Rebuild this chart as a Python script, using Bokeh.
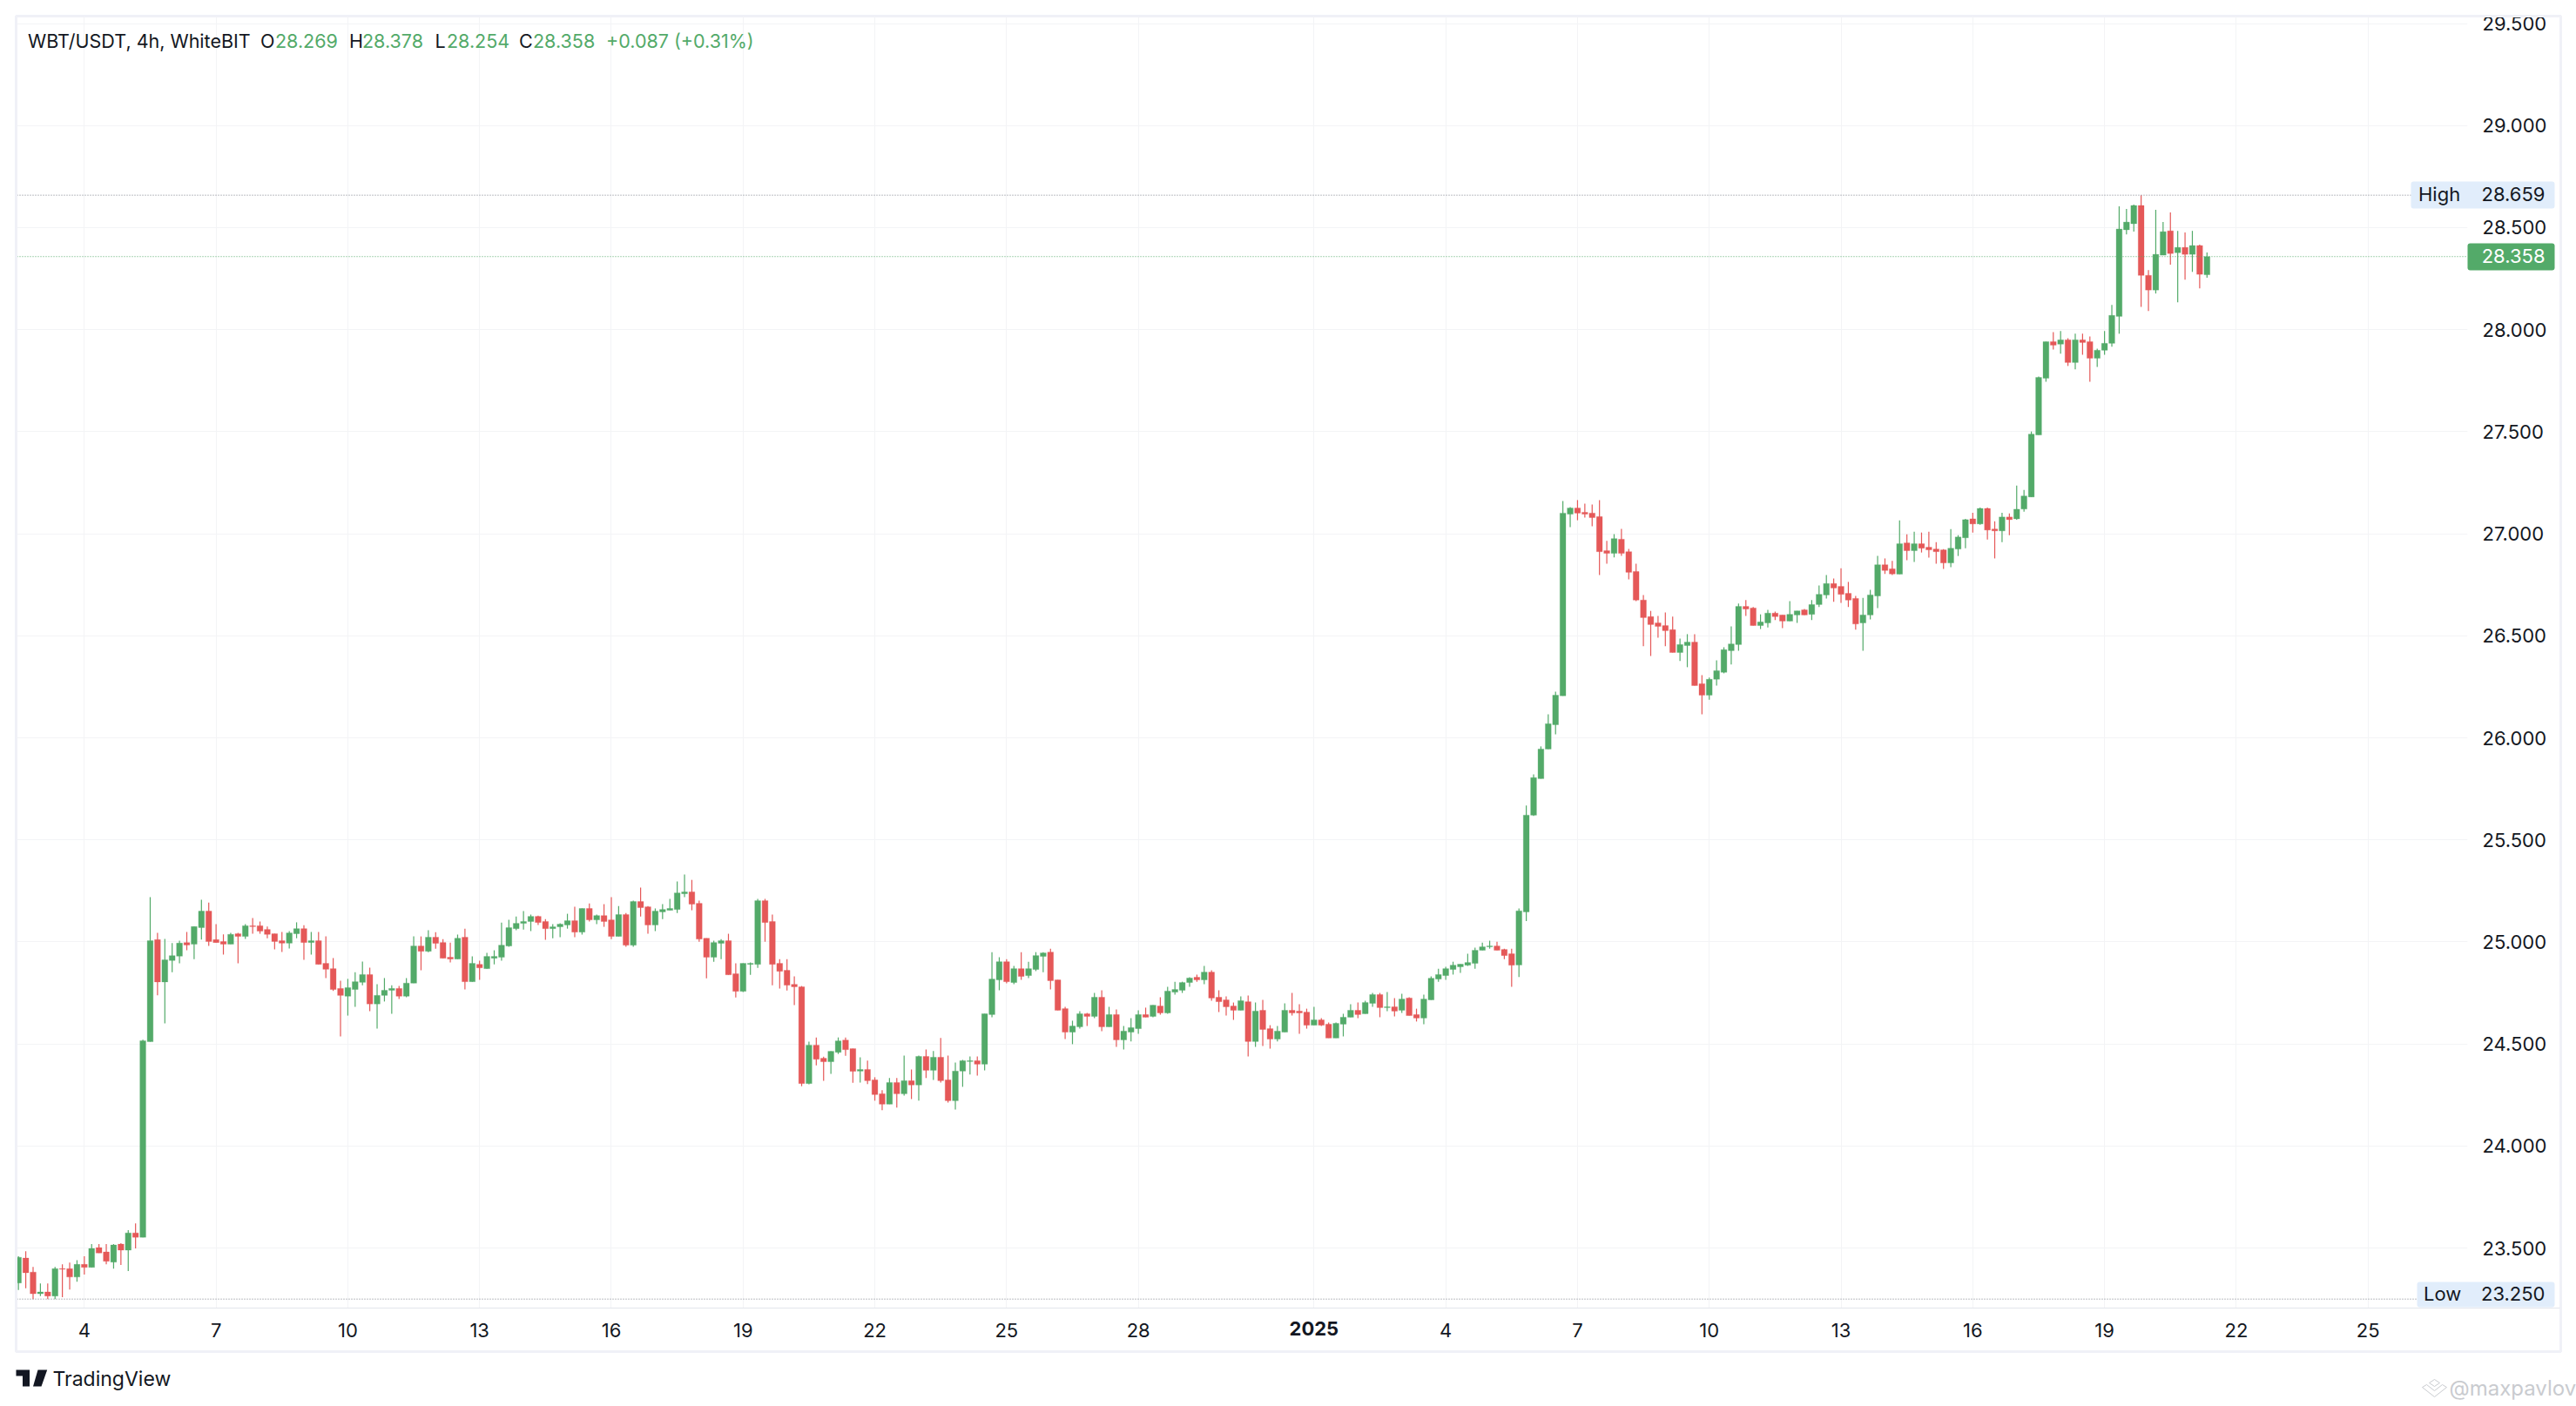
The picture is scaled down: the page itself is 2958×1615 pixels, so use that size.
from bokeh.core.properties import value
from bokeh.embed import file_html
from bokeh.resources import INLINE
from bokeh.plotting import figure
from bokeh.models import ColumnDataSource, FixedTicker, NumeralTickFormatter, Span

opens = [
23.329,23.451,23.382,23.276,23.285,23.265,23.399,23.399,23.358,23.420,
23.405,23.502,23.481,23.431,23.519,23.490,23.574,23.553,24.511,25.011,
24.804,24.909,24.930,24.997,24.989,25.070,25.151,25.011,25.002,24.989,
25.040,25.027,25.079,25.079,25.061,25.040,25.006,24.994,25.040,25.065,
24.997,25.006,24.895,24.869,24.772,24.734,24.767,24.802,24.840,24.696,
24.738,24.763,24.772,24.734,24.798,24.980,24.954,25.023,24.997,24.925,
24.916,25.023,24.805,24.890,24.869,24.920,24.925,24.980,25.065,25.091,
25.100,25.125,25.100,25.065,25.074,25.083,25.104,25.048,25.164,25.108,
25.129,25.108,25.027,25.134,24.984,25.198,25.172,25.083,25.147,25.155,
25.159,25.236,25.245,25.189,25.018,24.925,24.993,25.006,24.844,24.758,
24.890,24.890,25.202,25.100,24.895,24.861,24.792,24.780,24.306,24.494,
24.430,24.413,24.459,24.519,24.477,24.367,24.375,24.324,24.256,24.205,
24.311,24.256,24.320,24.299,24.439,24.371,24.435,24.324,24.222,24.367,
24.414,24.418,24.401,24.644,24.814,24.903,24.801,24.869,24.835,24.865,
24.929,24.950,24.814,24.673,24.558,24.584,24.648,24.635,24.729,24.584,
24.644,24.520,24.558,24.575,24.644,24.635,24.686,24.652,24.754,24.763,
24.801,24.827,24.814,24.852,24.729,24.716,24.686,24.665,24.707,24.512,
24.665,24.575,24.524,24.558,24.665,24.661,24.656,24.592,24.618,24.597,
24.529,24.597,24.631,24.665,24.648,24.699,24.742,24.678,24.682,24.665,
24.725,24.644,24.627,24.716,24.818,24.835,24.865,24.878,24.886,24.895,
24.959,24.976,24.980,24.963,24.942,24.887,25.147,25.621,25.800,25.945,
26.064,26.206,27.096,27.126,27.105,27.101,27.084,26.917,26.904,26.973,
26.912,26.815,26.675,26.594,26.563,26.550,26.530,26.418,26.452,26.469,
26.265,26.209,26.287,26.321,26.427,26.457,26.644,26.636,26.550,26.563,
26.611,26.602,26.572,26.602,26.627,26.605,26.653,26.700,26.756,26.742,
26.708,26.683,26.563,26.602,26.695,26.848,26.828,26.802,26.955,26.917,
26.951,26.934,26.925,26.921,26.857,26.925,26.980,27.073,27.048,27.124,
27.023,27.014,27.082,27.073,27.121,27.180,27.484,27.762,27.941,27.929,
27.950,27.839,27.950,27.941,27.860,27.899,27.933,28.065,28.489,28.519,
28.608,28.266,28.194,28.365,28.484,28.377,28.403,28.369,28.412,28.269]

highs = [
23.460,23.484,23.408,23.327,23.327,23.408,23.420,23.429,23.441,23.460,
23.519,23.519,23.519,23.519,23.524,23.588,23.621,24.521,25.219,25.044,
25.015,24.994,25.006,25.049,25.075,25.207,25.193,25.087,25.037,25.044,
25.044,25.087,25.117,25.100,25.075,25.040,25.049,25.053,25.096,25.082,
25.049,25.049,25.027,24.921,24.810,24.819,24.852,24.904,24.874,24.793,
24.823,24.788,24.784,24.823,25.027,25.027,25.057,25.048,25.014,24.997,
25.036,25.065,24.929,24.908,24.946,24.959,25.095,25.108,25.125,25.151,
25.134,25.129,25.112,25.087,25.091,25.138,25.172,25.164,25.189,25.134,
25.185,25.219,25.176,25.142,25.202,25.266,25.176,25.164,25.185,25.211,
25.296,25.330,25.304,25.202,25.018,25.006,25.014,25.040,24.895,24.895,
24.899,25.211,25.211,25.134,24.916,24.916,24.831,24.784,24.511,24.532,
24.438,24.464,24.532,24.532,24.477,24.435,24.418,24.337,24.273,24.333,
24.333,24.443,24.375,24.443,24.473,24.465,24.529,24.443,24.409,24.422,
24.439,24.439,24.648,24.950,24.925,24.916,24.882,24.950,24.903,24.950,
24.950,24.967,24.814,24.682,24.614,24.661,24.652,24.750,24.763,24.682,
24.669,24.588,24.627,24.665,24.678,24.690,24.729,24.780,24.805,24.805,
24.827,24.840,24.882,24.861,24.763,24.733,24.703,24.733,24.737,24.703,
24.716,24.592,24.588,24.699,24.750,24.695,24.673,24.682,24.627,24.605,
24.605,24.648,24.695,24.703,24.712,24.750,24.750,24.754,24.725,24.746,
24.729,24.673,24.742,24.831,24.869,24.878,24.903,24.891,24.942,24.972,
24.997,25.006,25.001,24.967,24.967,25.164,25.668,25.821,25.958,26.115,
26.226,27.160,27.130,27.165,27.147,27.143,27.165,26.965,26.998,27.024,
26.926,26.853,26.700,26.622,26.597,26.614,26.594,26.486,26.508,26.508,
26.307,26.295,26.380,26.444,26.546,26.658,26.675,26.641,26.605,26.627,
26.619,26.602,26.670,26.622,26.631,26.675,26.747,26.798,26.781,26.831,
26.764,26.695,26.686,26.725,26.892,26.879,26.867,27.065,26.997,27.010,
27.006,27.010,26.959,26.925,27.023,26.993,27.073,27.103,27.128,27.128,
27.061,27.103,27.099,27.236,27.215,27.501,27.770,27.941,27.988,27.993,
27.958,27.980,27.980,27.967,27.907,27.993,28.121,28.604,28.591,28.613,
28.659,28.292,28.587,28.527,28.574,28.484,28.476,28.484,28.416,28.378]

lows = [
23.294,23.303,23.250,23.265,23.250,23.250,23.259,23.297,23.335,23.370,
23.405,23.476,23.420,23.399,23.417,23.387,23.498,23.553,24.511,24.738,
24.601,24.852,24.895,24.959,24.916,25.011,24.980,24.997,24.938,24.989,
24.895,25.015,25.040,25.040,25.018,24.963,24.951,24.968,25.018,24.912,
24.938,24.890,24.823,24.760,24.537,24.639,24.682,24.788,24.661,24.575,
24.708,24.648,24.720,24.729,24.798,24.861,24.950,24.967,24.920,24.899,
24.916,24.767,24.805,24.814,24.869,24.890,24.908,24.976,25.057,25.061,
25.053,25.083,25.010,25.018,25.023,25.065,25.023,25.036,25.100,25.087,
25.074,25.014,25.027,24.976,24.976,25.125,25.040,25.053,25.112,25.155,
25.142,25.219,25.155,25.001,24.822,24.903,24.916,24.839,24.728,24.754,
24.839,24.873,25.001,24.788,24.771,24.762,24.690,24.293,24.302,24.395,
24.319,24.353,24.451,24.442,24.310,24.311,24.303,24.222,24.175,24.205,
24.188,24.247,24.230,24.222,24.333,24.324,24.311,24.213,24.179,24.290,
24.350,24.345,24.371,24.631,24.763,24.797,24.793,24.814,24.823,24.857,
24.852,24.767,24.665,24.524,24.499,24.575,24.588,24.627,24.563,24.584,
24.486,24.473,24.512,24.550,24.631,24.631,24.644,24.648,24.742,24.750,
24.780,24.805,24.793,24.712,24.656,24.639,24.618,24.665,24.439,24.486,
24.490,24.477,24.512,24.558,24.639,24.550,24.575,24.592,24.588,24.529,
24.529,24.537,24.631,24.627,24.648,24.682,24.631,24.661,24.635,24.652,
24.639,24.610,24.597,24.716,24.805,24.814,24.840,24.848,24.882,24.869,
24.959,24.967,24.959,24.916,24.780,24.828,25.102,25.617,25.800,25.945,
26.017,26.206,27.032,27.066,27.079,27.037,26.798,26.853,26.884,26.892,
26.776,26.670,26.449,26.401,26.491,26.449,26.418,26.376,26.346,26.256,
26.115,26.187,26.256,26.316,26.359,26.427,26.597,26.550,26.533,26.541,
26.577,26.538,26.572,26.563,26.602,26.577,26.641,26.683,26.666,26.661,
26.641,26.530,26.427,26.580,26.636,26.803,26.798,26.802,26.870,26.862,
26.908,26.883,26.853,26.828,26.836,26.891,26.929,27.006,27.044,26.972,
26.879,26.959,26.993,27.069,27.108,27.180,27.484,27.745,27.903,27.882,
27.822,27.805,27.877,27.745,27.817,27.877,27.916,27.980,28.467,28.480,
28.112,28.091,28.177,28.365,28.318,28.134,28.245,28.283,28.202,28.254]

closes = [
23.455,23.379,23.276,23.285,23.265,23.399,23.396,23.358,23.420,23.405,
23.498,23.476,23.435,23.515,23.490,23.574,23.553,24.516,25.006,24.804,
24.912,24.933,24.994,24.985,25.075,25.151,25.002,24.997,24.989,25.037,
25.027,25.079,25.075,25.053,25.037,25.002,24.994,25.044,25.065,24.997,
25.006,24.890,24.866,24.767,24.738,24.776,24.805,24.840,24.696,24.738,
24.763,24.772,24.734,24.798,24.980,24.954,25.023,24.993,24.920,24.916,
25.018,24.805,24.895,24.873,24.929,24.929,24.984,25.070,25.091,25.100,
25.125,25.095,25.065,25.074,25.087,25.104,25.048,25.164,25.108,25.129,
25.100,25.027,25.134,24.984,25.198,25.168,25.083,25.151,25.159,25.164,
25.240,25.245,25.185,25.014,24.925,24.997,25.006,24.839,24.758,24.895,
24.895,25.202,25.095,24.890,24.856,24.788,24.780,24.306,24.494,24.425,
24.413,24.464,24.515,24.472,24.366,24.375,24.320,24.252,24.205,24.311,
24.256,24.320,24.299,24.439,24.371,24.435,24.320,24.222,24.367,24.418,
24.418,24.401,24.648,24.818,24.903,24.805,24.869,24.831,24.869,24.933,
24.946,24.810,24.665,24.558,24.588,24.648,24.635,24.729,24.584,24.644,
24.520,24.563,24.580,24.644,24.631,24.690,24.652,24.759,24.767,24.801,
24.823,24.814,24.852,24.725,24.707,24.682,24.665,24.712,24.512,24.661,
24.571,24.524,24.563,24.665,24.652,24.652,24.592,24.618,24.592,24.529,
24.601,24.631,24.665,24.644,24.703,24.742,24.678,24.682,24.661,24.720,
24.639,24.627,24.720,24.822,24.840,24.869,24.886,24.891,24.899,24.959,
24.976,24.980,24.959,24.933,24.886,25.152,25.621,25.805,25.945,26.069,
26.209,27.101,27.126,27.101,27.096,27.079,26.912,26.904,26.976,26.904,
26.811,26.675,26.589,26.555,26.546,26.525,26.418,26.457,26.469,26.256,
26.209,26.287,26.329,26.432,26.460,26.644,26.631,26.550,26.568,26.611,
26.594,26.572,26.605,26.622,26.602,26.653,26.703,26.756,26.734,26.703,
26.675,26.558,26.602,26.700,26.848,26.820,26.803,26.951,26.917,26.951,
26.929,26.921,26.912,26.857,26.929,26.984,27.069,27.048,27.124,27.018,
27.014,27.082,27.069,27.120,27.185,27.488,27.766,27.941,27.924,27.950,
27.839,27.950,27.937,27.860,27.899,27.933,28.070,28.493,28.527,28.608,
28.266,28.194,28.369,28.480,28.373,28.403,28.369,28.412,28.271,28.358]

tick_bars = [9, 27, 45, 63, 81, 99, 117, 135, 153, 177, 195, 213, 231, 249, 267, 285, 303, 321]
tick_labels = ["4", "7", "10", "13", "16", "19", "22", "25", "28", "", "4", "7", "10", "13", "16", "19", "22", "25"]
year_bar = 177
year_label = "2025"
price_ticks = [23.5, 24.0, 24.5, 25.0, 25.5, 26.0, 26.5, 27.0, 27.5, 28.0, 28.5, 29.0, 29.5]
high_price, low_price, last_price = 28.659, 23.25, 28.358

GREEN, RED, INK = "#53AA69", "#E55858", "#131722"
GRID, BAND, SEP = "#F3F4F6", "#F0F1F7", "#E3E5EC"
TAG = "#E1EDFB"
FONT = "Inter"
AXIS_PT = "22px"

W, H = 2958, 1615
FL, FR, FT, FB = 19, 2833, 19, 1502      # plot area, picture pixels
X0, X1 = -0.2, 334.6
Y0, Y1 = 23.206, 29.532

p = figure(width=W, height=H, output_backend="svg", toolbar_location=None,
           x_range=(X0, X1), y_range=(Y0, Y1),
           y_axis_location="right", x_axis_location="below",
           min_border_left=FL, min_border_top=FT, min_border_right=W - FR, min_border_bottom=H - FB,
           outline_line_color=None, background_fill_color="white", border_fill_color="white")

ya = p.yaxis[0]
ya.ticker = FixedTicker(ticks=price_ticks)
ya.formatter = NumeralTickFormatter(format="0.000")
ya.axis_line_color = None
ya.major_tick_line_color = None
ya.minor_tick_line_color = None
ya.major_label_text_font = FONT
ya.major_label_text_font_size = AXIS_PT
ya.major_label_text_color = INK
ya.major_label_standoff = 11

xa = p.xaxis[0]
xa.ticker = FixedTicker(ticks=tick_bars)
xa.major_label_overrides = dict(zip(tick_bars, tick_labels))
xa.axis_line_color = None
xa.major_tick_line_color = None
xa.minor_tick_line_color = None
xa.major_label_text_font = FONT
xa.major_label_text_font_size = AXIS_PT
xa.major_label_text_color = INK
xa.major_label_standoff = 11

p.xgrid[0].grid_line_color = GRID
p.ygrid[0].grid_line_color = GRID

x = list(range(len(opens)))
src = ColumnDataSource(dict(
    x=x, high=highs, low=lows,
    top=[max(a, b) for a, b in zip(opens, closes)],
    bottom=[min(a, b) for a, b in zip(opens, closes)],
    color=[GREEN if c >= o else RED for o, c in zip(opens, closes)],
))

for price, col in ((high_price, "#787B86"), (low_price, "#787B86"), (last_price, GREEN)):
    p.add_layout(Span(location=price, dimension="width", line_color=col, line_width=1, line_dash="1 2"))

p.segment(x0="x", y0="high", x1="x", y1="low", source=src, line_color="color", line_width=1.2)
p.vbar(x="x", width=0.8, top="top", bottom="bottom", source=src,
       fill_color="color", line_color="color", line_width=0.3)

# picture pixel -> data position, for the page furniture drawn over the axes
def px(v):
    return X0 + (v - FL) * (X1 - X0) / (FR - FL)

def py(v):
    return Y1 - (v - FT) * (Y1 - Y0) / (FB - FT)

def box(l, t, r, b, fill, radius=0, line=None, lw=0):
    p.quad(left=[px(l)], right=[px(r)], top=[py(t)], bottom=[py(b)], level="overlay",
           fill_color=fill, fill_alpha=1 if fill else 0,
           line_color=line, line_width=lw, border_radius=radius)

def txt(xp, yp, s, color=INK, align="left", size=21.5, style="normal"):
    p.text(x=[px(xp)], y=[py(yp)], text=[s], level="overlay",
           text_color=color, text_align=align, text_baseline="middle",
           text_font=value(FONT), text_font_size=f"{size}px", text_font_style=style)

def poly(xs, ys, fill=None, line=None, lw=1):
    p.patch(x=[px(v) for v in xs], y=[py(v) for v in ys], level="overlay",
            fill_color=fill, fill_alpha=1 if fill else 0,
            line_color=line, line_width=lw)

# frame and separator under the plot
box(18, 18, 2940, 1552, None, line=BAND, lw=3)
box(19, 1501.5, 2939, 1502.5, SEP)

# header
txt(31.5, 46.5, "WBT/USDT, 4h, WhiteBIT")
for xl, letter, xv, val in ((298.5, "O", 315.5, "28.269"), (400.5, "H", 415.5, "28.378"),
                            (499, "L", 512.5, "28.254"), (595.5, "C", 611.5, "28.358")):
    txt(xl, 46.5, letter)
    txt(xv, 46.5, val, GREEN)
txt(695.5, 46.5, "+0.087 (+0.31%)", GREEN)

# price tags
box(2768, 208, 2933, 239, TAG, radius=3)
txt(2776.5, 222, "High", size=22)
txt(2922, 222, "28.659", align="right", size=22)
box(2833, 279, 2933, 310, GREEN, radius=3)
txt(2922, 293, "28.358", "white", align="right", size=22)
box(2775, 1472, 2933, 1501, TAG, radius=3)
txt(2782.5, 1485.5, "Low", size=22)
txt(2922, 1485.5, "23.250", align="right", size=22)

# bold year on the time axis
p.text(x=[year_bar], y=[py(1525.5)], text=[year_label], level="overlay",
       text_color=INK, text_align="center", text_baseline="middle",
       text_font=value(FONT), text_font_size=AXIS_PT, text_font_style="bold")

# TradingView mark
poly([18, 33.5, 33.5, 25.5, 25.5, 18], [1573, 1573, 1592, 1592, 1580, 1580], fill=INK)
p.scatter(x=[px(37)], y=[py(1577)], size=7.5, marker="circle", level="overlay", fill_color=INK, line_color=None)
poly([43, 53.7, 47, 37.5], [1573, 1573, 1592, 1592], fill=INK)
txt(60, 1583.5, "TradingView", size=23)

# watermark
WM = "#C9CBCF"
poly([2789, 2795, 2801, 2795], [1588, 1584, 1588, 1592], line=WM)
poly([2781, 2786, 2795, 2804, 2809, 2795], [1593, 1590, 1597, 1590, 1593, 1604], line=WM)
txt(2812, 1594, "@maxpavlov", WM, size=24)

open("out.html", "w").write(file_html(p, INLINE))
